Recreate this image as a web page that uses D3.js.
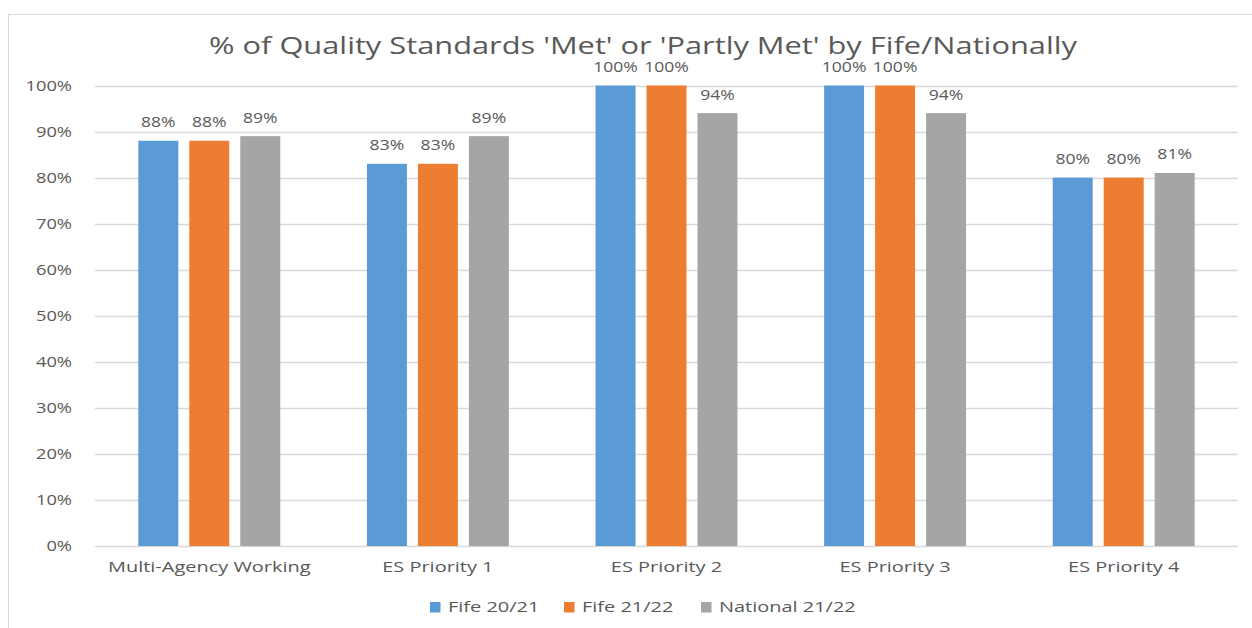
<!DOCTYPE html>
<html>
<head>
<meta charset="utf-8">
<script src="https://cdn.jsdelivr.net/npm/d3@7/dist/d3.min.js"></script>
<style>
  html, body { margin: 0; padding: 0; background: #fff; }
  svg { display: block; }
  text { font-family: "Open Sans", sans-serif; fill: #595959; }
</style>
</head>
<body>
<svg id="chart" width="1252" height="628"></svg>
<script>
const title = "% of Quality Standards 'Met' or 'Partly Met' by Fife/Nationally";
const categories = ["Multi-Agency Working", "ES Priority 1", "ES Priority 2", "ES Priority 3", "ES Priority 4"];
const seriesNames = ["Fife 20/21", "Fife 21/22", "National 21/22"];
const fife2021 = [88, 83, 100, 100, 80];
const fife2122 = [88, 83, 100, 100, 80];
const national2122 = [89, 89, 94, 94, 81];
const yTicks = [0, 10, 20, 30, 40, 50, 60, 70, 80, 90, 100];
const colors = ["#5B9BD5", "#ED7D31", "#A5A5A5"];

const seriesValues = [fife2021, fife2122, national2122];
const SX_NUM = 1.22;
const SX_VAL = 1.17;
const SX_TXT = 1.33;

const svg = d3.select("#chart");

function stretch(sel, sx) {
  sel.each(function () {
    const len = this.getComputedTextLength();
    d3.select(this).attr("textLength", len * sx).attr("lengthAdjust", "spacingAndGlyphs");
  });
}

// outer border (chart area, cropped on right/bottom)
svg.append("rect")
  .attr("x", 8.5).attr("y", 14.5).attr("width", 1300).attr("height", 700)
  .attr("fill", "none").attr("stroke", "#D9D9D9").attr("stroke-width", 1);

const plot = { left: 95, right: 1238, top: 85.5, bottom: 546 };

const x0 = d3.scaleBand().domain(categories).range([plot.left, plot.right]).padding(0);
const x1 = d3.scaleBand().domain(seriesNames).range([0, x0.bandwidth()])
  .paddingInner(0.216).paddingOuter(0.85);
const y = d3.scaleLinear().domain([0, 100]).range([plot.bottom, plot.top]);

// gridlines
svg.append("g").selectAll("line").data(yTicks).join("line")
  .attr("x1", plot.left).attr("x2", plot.right)
  .attr("y1", d => Math.round(y(d)) + 0.5).attr("y2", d => Math.round(y(d)) + 0.5)
  .attr("stroke", "#D9D9D9").attr("stroke-width", 1.5);

// y labels
const yl = svg.append("g").selectAll("text").data(yTicks).join("text")
  .attr("x", 72).attr("y", d => y(d) + 5)
  .attr("text-anchor", "end").attr("font-size", 15)
  .text(d => d + "%");
stretch(yl, SX_NUM);

// bars
const rows = [];
categories.forEach((c, i) => seriesNames.forEach((s, j) => rows.push({ c, s, j, v: seriesValues[j][i] })));

svg.append("g").selectAll("rect").data(rows).join("rect")
  .attr("x", d => x0(d.c) + x1(d.s))
  .attr("y", d => y(d.v))
  .attr("width", x1.bandwidth())
  .attr("height", d => y(0) - y(d.v))
  .attr("fill", d => colors[d.j]);

// value labels
const vl = svg.append("g").selectAll("text").data(rows).join("text")
  .attr("x", d => x0(d.c) + x1(d.s) + x1.bandwidth() / 2)
  .attr("y", d => y(d.v) - 13.5)
  .attr("text-anchor", "middle").attr("font-size", 15)
  .text(d => d.v + "%");
stretch(vl, SX_VAL);

// category labels
const cl = svg.append("g").selectAll("text").data(categories).join("text")
  .attr("x", d => x0(d) + x0.bandwidth() / 2)
  .attr("y", 572)
  .attr("text-anchor", "middle").attr("font-size", 15)
  .text(d => d);
stretch(cl, SX_TXT);

// title
const tt = svg.append("text")
  .attr("x", 643).attr("y", 53.5)
  .attr("text-anchor", "middle").attr("font-size", 23.5)
  .text(title);
stretch(tt, 1.31);

// legend
const legend = svg.append("g");
const legendX = [430, 564, 701];
seriesNames.forEach((s, j) => {
  legend.append("rect").attr("x", legendX[j]).attr("y", 602).attr("width", 10.5).attr("height", 10.5).attr("fill", colors[j]);
  const t = legend.append("text").attr("x", legendX[j] + 18).attr("y", 612)
    .attr("font-size", 15).text(s);
  stretch(t, SX_TXT);
});
</script>
</body>
</html>
